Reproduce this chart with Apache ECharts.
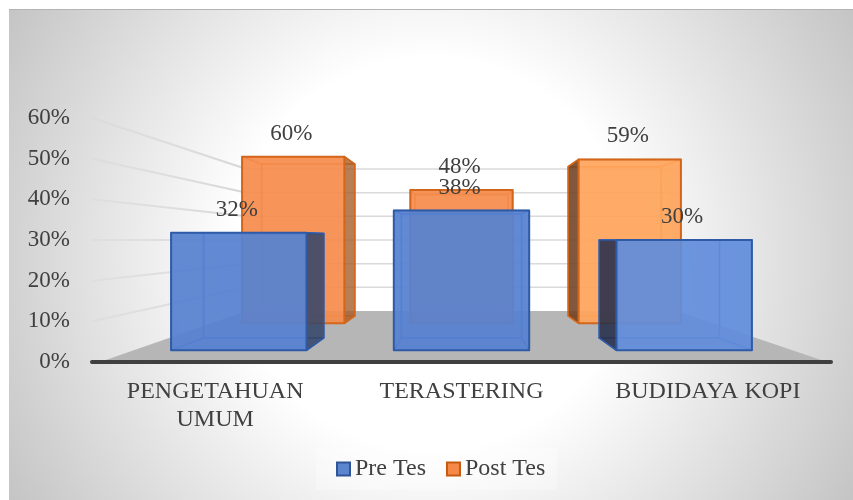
<!DOCTYPE html>
<html>
<head>
<meta charset="utf-8">
<style>html,body{margin:0;padding:0;background:#fff}#c{width:853px;height:500px}</style>
<script src="https://cdn.jsdelivr.net/npm/echarts@6/dist/echarts.min.js"></script>
</head>
<body>
<div id="c"></div>
<script>
var categories = ['PENGETAHUAN UMUM', 'TERASTERING', 'BUDIDAYA KOPI'];
var preTes = [32, 38, 30];
var postTes = [60, 48, 59];
var ticks = [0, 10, 20, 30, 40, 50, 60];

// Perspective depth factors relative to the axis plane
var WALL = 0.582, HORIZON_VALUE = 30, BAR_RATIO = 0.608;
var FONT = '"Liberation Serif","Times New Roman",serif';
var INK = '#404040';

var preStyle = {
  front: ['rgba(86,130,208,.9)', 'rgba(86,130,208,.9)', 'rgba(98,142,220,.9)'],
  inner: 'rgba(80,125,205,.3)', darkLeft: 'rgba(40,45,70,.86)', darkRight: 'rgba(52,66,100,.82)',
  edge: '#2f5ba6', innerEdge: 'rgba(60,105,190,.8)', f: 0.904, b: 0.803
};
var postStyle = {
  front: ['rgba(245,140,76,.9)', 'rgba(245,140,76,.9)', 'rgba(255,165,92,.9)'],
  inner: 'rgba(240,130,60,.25)', darkLeft: 'rgba(105,62,32,.84)', darkRight: 'rgba(158,88,38,.72)',
  edge: '#d4661c', innerEdge: 'rgba(232,120,45,.8)', f: 0.683, b: 0.622
};

function projector(api) {
  var first = api.coord([0, 0]), last = api.coord([2, 0]);
  var vx = (first[0] + last[0]) / 2, vy = api.coord([0, HORIZON_VALUE])[1];
  return function (x, y, f) { return [vx + (x - vx) * f, vy + (y - vy) * f]; };
}

function barRenderer(st) {
  return function (params, api) {
    var P = projector(api);
    var i = api.value(0), v = api.value(1);
    var cx = api.coord([i, 0])[0], y0 = api.coord([i, 0])[1], y1 = api.coord([i, v])[1];
    var w = api.size([1, 0])[0] * BAR_RATIO, l = cx - w / 2, r = cx + w / 2;
    var fbl = P(l, y0, st.f), fbr = P(r, y0, st.f), ftl = P(l, y1, st.f), ftr = P(r, y1, st.f);
    var bbl = P(l, y0, st.b), bbr = P(r, y0, st.b), btl = P(l, y1, st.b), btr = P(r, y1, st.b);
    function face(pts, fill, stroke, lw) {
      return { type: 'polygon', shape: { points: pts },
        style: { fill: fill, stroke: stroke || 'none', lineWidth: lw || 0, lineJoin: 'round' } };
    }
    var kids = [];
    // inner faces, seen through the translucent front
    kids.push(face([btl, btr, bbr, bbl], st.inner, st.innerEdge, 1.5));
    kids.push(face([bbl, bbr, fbr, fbl], st.inner, st.innerEdge, 1.5));
    kids.push(face([btl, btr, ftr, ftl], st.inner, st.innerEdge, 1.5));
    var leftOut = bbl[0] < fbl[0], rightOut = bbr[0] > fbr[0];
    kids.push(face([btl, ftl, fbl, bbl], leftOut ? st.darkLeft : st.inner, leftOut ? st.edge : st.innerEdge, 1.5));
    kids.push(face([btr, ftr, fbr, bbr], rightOut ? st.darkRight : st.inner, rightOut ? st.edge : st.innerEdge, 1.5));
    kids.push(face([ftl, ftr, fbr, fbl], st.front[i], st.edge, 2));
    kids.push({ type: 'text', z2: 50, style: {
      text: v + '%', x: (ftl[0] + ftr[0]) / 2 - 2, y: ftl[1] - 23,
      font: '23px ' + FONT, fill: INK, align: 'center', verticalAlign: 'middle' } });
    return { type: 'group', children: kids };
  };
}

var chart = echarts.init(document.getElementById('c'), null, { renderer: 'canvas' });
chart.setOption({
  animation: false,
  backgroundColor: '#fff',
  graphic: [{ type: 'rect', z: -10, silent: true,
    shape: { x: 9, y: 9, width: 844, height: 491 },
    style: { fill: { type: 'radial', x: 431, y: 254, r: 490, global: true,
      colorStops: [{ offset: 0, color: '#fff' }, { offset: 0.4, color: '#fff' }, { offset: 1, color: '#c4c4c4' }] } } },
    { type: 'rect', z: -9, silent: true, shape: { x: 9, y: 9, width: 844, height: 1 }, style: { fill: '#b4b4b4' } }],
  grid: { left: 92, right: 22, top: 118, bottom: 138 },
  legend: {
    data: ['Pre Tes', 'Post Tes'], left: 316, top: 448, icon: 'rect',
    itemWidth: 13, itemHeight: 13, itemGap: 20,
    padding: [9, 12, 9, 20], backgroundColor: 'rgba(255,255,255,.3)',
    textStyle: { fontFamily: FONT, fontSize: 24, color: INK }
  },
  xAxis: {
    type: 'category', data: categories, boundaryGap: true, z: 5,
    axisTick: { show: false },
    axisLine: { show: true, lineStyle: { color: '#404040', width: 4, cap: 'round' } },
    axisLabel: { fontFamily: FONT, fontSize: 24, color: INK, margin: 16, lineHeight: 28, interval: 0,
      formatter: function (name) { return name.length > 14 ? name.replace(' ', '\n') : name; } }
  },
  yAxis: {
    type: 'value', min: 0, max: 60, interval: 10,
    axisLine: { show: false }, axisTick: { show: false }, splitLine: { show: false },
    axisLabel: { fontFamily: FONT, fontSize: 23, color: INK, margin: 22, padding: [7, 0, 0, 0], formatter: '{value}%' }
  },
  series: [
    { name: 'floor', type: 'custom', z: 1, silent: true, data: [[0]],
      coordinateSystem: 'cartesian2d', encode: { x: 0 },
      renderItem: function (params, api) {
        var P = projector(api), g = params.coordSys, y0 = api.coord([0, 0])[1];
        var l = g.x + 8, r = g.x + g.width - 4;
        return { type: 'polygon', shape: { points: [[l, y0], P(g.x, y0, WALL), P(g.x + g.width, y0, WALL), [r, y0]] },
          style: { fill: '#b6b6b6' } };
      } },
    { name: 'gridlines', type: 'custom', z: 1, silent: true,
      data: ticks.slice(1).map(function (t) { return [0, t]; }),
      encode: { x: 0, y: 1 },
      renderItem: function (params, api) {
        var P = projector(api), g = params.coordSys, y = api.coord([0, api.value(1)])[1];
        var a = [g.x, y], b = P(g.x, y, WALL), c = P(g.x + g.width, y, WALL);
        return { type: 'group', children: [
          { type: 'line', shape: { x1: a[0], y1: a[1], x2: b[0], y2: b[1] },
            style: { lineWidth: 2, stroke: { type: 'linear', x: a[0], y: 0, x2: b[0], y2: 0, global: true,
              colorStops: [{ offset: 0, color: 'rgba(205,205,205,.2)' }, { offset: 1, color: '#d6d6d6' }] } } },
          { type: 'line', shape: { x1: b[0], y1: b[1], x2: c[0], y2: c[1] },
            style: { lineWidth: 1.5, stroke: '#dadada' } } ] };
      } },
    { name: 'Post Tes', type: 'custom', z: 2,
      itemStyle: { color: '#f58a48', borderColor: '#c55a11', borderWidth: 2 },
      data: postTes.map(function (v, i) { return [i, v]; }), encode: { x: 0, y: 1 },
      renderItem: barRenderer(postStyle) },
    { name: 'Pre Tes', type: 'custom', z: 3,
      itemStyle: { color: '#5b85cf', borderColor: '#2f5597', borderWidth: 2 },
      data: preTes.map(function (v, i) { return [i, v]; }), encode: { x: 0, y: 1 },
      renderItem: barRenderer(preStyle) }
  ]
});
</script>
</body>
</html>
